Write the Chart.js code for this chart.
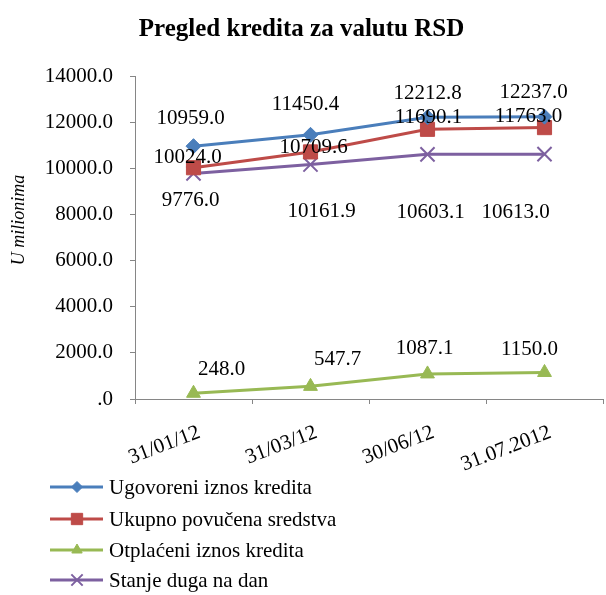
<!DOCTYPE html>
<html>
<head>
<meta charset="utf-8">
<script src="https://cdn.jsdelivr.net/npm/chart.js@4"></script>
<style>
  body { margin: 0; background: #fff; }
  #wrap { width: 606px; height: 595px; }
</style>
</head>
<body>
<div id="wrap"><canvas id="lineChart"></canvas></div>
<script>
const categories = ["31/01/12", "31/03/12", "30/06/12", "31.07.2012"];
const ugovoreni = [10959.0, 11450.4, 12212.8, 12237.0];
const povucena = [10024.0, 10709.6, 11690.1, 11763.0];
const otplaceni = [248.0, 547.7, 1087.1, 1150.0];
const stanje = [9776.0, 10161.9, 10603.1, 10613.0];
const seriesNames = [
  "Ugovoreni iznos kredita",
  "Ukupno povučena sredstva",
  "Otplaćeni iznos kredita",
  "Stanje duga na dan"
];

const serif = "'Liberation Serif', 'Times New Roman', serif";

// where each value label sits relative to its point (dx, dy)
const labelShift = [
  [[-3, -28], [-5, -30], [0, -24], [-11, -24]],
  [[-6, -10], [3, -4], [1, -12], [-16, -11]],
  [[28, -24], [27, -27], [-3, -25], [-15, -23]],
  [[-3, 27], [11, 47], [3, 58], [-29, 58]]
];

const valueLabels = {
  id: "valueLabels",
  afterDatasetsDraw(chart) {
    const ctx = chart.ctx;
    const xs = chart.scales.x;
    ctx.save();
    ctx.font = "21px " + serif;
    ctx.fillStyle = "#000";
    ctx.textAlign = "center";
    ctx.textBaseline = "middle";
    chart.data.datasets.forEach((ds, i) => {
      chart.getDatasetMeta(i).data.forEach((pt, j) => {
        const s = labelShift[i][j];
        ctx.fillText(ds.data[j].toFixed(1), pt.x + s[0], pt.y + s[1]);
      });
    });

    // slanted category labels under the axis
    ctx.textAlign = "right";
    ctx.textBaseline = "top";
    chart.data.labels.forEach((lab, i) => {
      ctx.save();
      ctx.translate(xs.getPixelForValue(i) + 2, xs.top + 23);
      ctx.rotate(-21 * Math.PI / 180);
      ctx.fillText(lab, 0, 0);
      ctx.restore();
    });

    // axis title, placed a bit above the middle like the original
    ctx.textAlign = "center";
    ctx.textBaseline = "middle";
    ctx.translate(19, 220);
    ctx.rotate(-Math.PI / 2);
    ctx.font = "italic 18px " + serif;
    ctx.fillText("U milionima", 0, 0);
    ctx.restore();
  }
};

// vertical legend under the plot
const sideLegend = {
  id: "sideLegend",
  afterDraw(chart) {
    const ctx = chart.ctx;
    const rows = [487, 519, 550, 580];
    ctx.save();
    chart.data.datasets.forEach((ds, i) => {
      const y = rows[i];
      ctx.strokeStyle = ds.borderColor;
      ctx.fillStyle = ds.borderColor;
      ctx.lineWidth = 3;
      ctx.beginPath();
      ctx.moveTo(50, y);
      ctx.lineTo(103, y);
      ctx.stroke();
      ctx.lineWidth = ds.pointStyle === "crossRot" ? 2 : 1;
      Chart.helpers.drawPoint(ctx, {
        pointStyle: ds.pointStyle,
        radius: ds.pointRadius - 2,
        borderWidth: ctx.lineWidth
      }, 77, y);
      ctx.fillStyle = "#000";
      ctx.font = "21px " + serif;
      ctx.textAlign = "left";
      ctx.textBaseline = "middle";
      ctx.fillText(ds.label, 109, y + 1);
    });
    ctx.restore();
  }
};

function line(label, data, color, style, radius) {
  return {
    label: label,
    data: data,
    borderColor: color,
    backgroundColor: color,
    pointBackgroundColor: color,
    pointBorderColor: color,
    borderWidth: 3,
    pointStyle: style,
    pointRadius: radius,
    pointHoverRadius: radius,
    pointBorderWidth: style === "crossRot" ? 2 : 1,
    tension: 0
  };
}

new Chart(document.getElementById("lineChart").getContext("2d"), {
  type: "line",
  data: {
    labels: categories,
    datasets: [
      line(seriesNames[0], ugovoreni, "#4A7EBB", "rectRot", 7.5),
      line(seriesNames[1], povucena, "#BE4B48", "rect", 10),
      line(seriesNames[2], otplaceni, "#98B954", "triangle", 8),
      line(seriesNames[3], stanje, "#7D60A0", "crossRot", 10)
    ]
  },
  options: {
    responsive: true,
    maintainAspectRatio: false,
    animation: false,
    layout: { autoPadding: false, padding: { top: 0, right: 3, bottom: 130, left: 0 } },
    plugins: {
      legend: { display: false },
      tooltip: { enabled: false },
      title: {
        display: true,
        text: "Pregled kredita za valutu RSD",
        color: "#000",
        font: { family: serif, size: 25, weight: "bold" },
        padding: { top: 15, bottom: 31 }
      }
    },
    scales: {
      x: {
        offset: true,
        border: { color: "#868686", width: 1 },
        grid: { offset: true, drawOnChartArea: false, drawTicks: true, tickLength: 5, color: "#868686" },
        ticks: { display: false },
        afterFit(scale) { scale.height = 66; }
      },
      y: {
        min: 0,
        max: 14000,
        border: { color: "#868686", width: 1 },
        grid: { drawOnChartArea: false, drawTicks: true, tickLength: 5, color: "#868686" },
        ticks: {
          stepSize: 2000,
          color: "#000",
          font: { family: serif, size: 21 },
          padding: 17,
          callback: v => v === 0 ? ".0" : v.toFixed(1)
        },
        afterFit(scale) { scale.width = 135; }
      }
    }
  },
  plugins: [valueLabels, sideLegend]
});
</script>
</body>
</html>
